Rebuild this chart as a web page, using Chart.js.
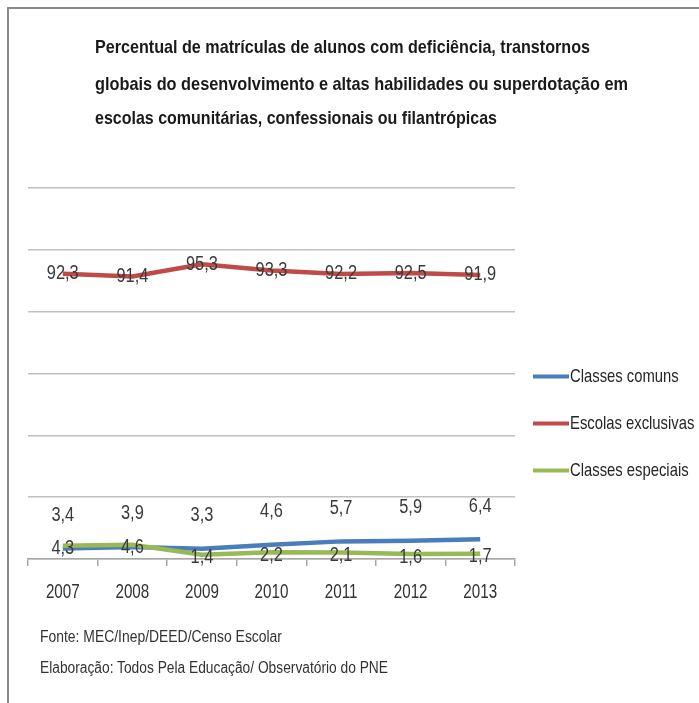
<!DOCTYPE html>
<html>
<head>
<meta charset="utf-8">
<script src="https://cdn.jsdelivr.net/npm/chart.js@4.4.1/dist/chart.umd.min.js"></script>
<style>
  html, body { margin: 0; padding: 0; background: #fff; }
  #page { position: relative; width: 699px; height: 703px; overflow: hidden; }
  #frame { position: absolute; left: 7px; top: 7px; right: -10px; bottom: -10px;
           border-left: 2px solid #8a8a8a; border-top: 2px solid #8a8a8a; }
  .txt { position: absolute; font-family: 'Liberation Sans', Arial, sans-serif; white-space: nowrap; transform-origin: 0 0; }
  .titulo { font-weight: bold; font-size: 19px; color: #1a1a1a; }
  .rodape { font-size: 16px; color: #333; }
  #chart { position: absolute; left: 0; top: 0; }
</style>
</head>
<body>
<div id="page">
  <div id="frame"></div>
  <canvas id="chart" width="699" height="703"></canvas>
  <div class="txt titulo" data-w="495" style="left:95px; top:36px">Percentual de matrículas de alunos com deficiência, transtornos</div>
  <div class="txt titulo" data-w="533" style="left:95px; top:73px">globais do desenvolvimento e altas habilidades ou superdotação em</div>
  <div class="txt titulo" data-w="402" style="left:95px; top:107px">escolas comunitárias, confessionais ou filantrópicas</div>
  <div class="txt rodape" data-w="242" style="left:40px; top:628px">Fonte: MEC/Inep/DEED/Censo Escolar</div>
  <div class="txt rodape" data-w="348" style="left:40px; top:659px">Elaboração: Todos Pela Educação/ Observatório do PNE</div>
</div>
<script>
// Anos e séries (%)
const anos = ['2007', '2008', '2009', '2010', '2011', '2012', '2013'];
const classesComuns = [3.4, 3.9, 3.3, 4.6, 5.7, 5.9, 6.4];
const escolasExclusivas = [92.3, 91.4, 95.3, 93.3, 92.2, 92.5, 91.9];
const classesEspeciais = [4.3, 4.6, 1.4, 2.2, 2.1, 1.6, 1.7];

const fonte = "'Liberation Sans', Arial, sans-serif";

// Textos HTML comprimidos para a largura desejada
document.querySelectorAll('.txt').forEach(el => {
  const w = el.getBoundingClientRect().width;
  el.style.transform = 'scaleX(' + (Number(el.dataset.w) / w) + ')';
});

// Escreve texto comprimido na horizontal (fonte estreita)
function texto(ctx, txt, x, y, align, aperto) {
  ctx.save();
  ctx.translate(x, y);
  ctx.scale(aperto, 1);
  ctx.textAlign = align;
  ctx.textBaseline = 'middle';
  ctx.fillText(txt, 0, 0);
  ctx.restore();
}

// Deslocamento vertical do rótulo de cada série
const deslocRotulo = [-33, 0, 3];

const desenhoTextos = {
  id: 'desenhoTextos',
  afterDatasetsDraw(chart) {
    const ctx = chart.ctx;
    const area = chart.chartArea;

    // rótulos de valor
    ctx.save();
    ctx.font = '20px ' + fonte;
    ctx.fillStyle = '#3a3a3a';
    chart.data.datasets.forEach((ds, i) => {
      chart.getDatasetMeta(i).data.forEach((pt, j) => {
        texto(ctx, String(ds.data[j]).replace('.', ','), pt.x, pt.y + deslocRotulo[i], 'center', 0.82);
      });
    });

    // anos no eixo x
    const sx = chart.scales.x;
    ctx.font = '20px ' + fonte;
    ctx.fillStyle = '#333';
    chart.data.labels.forEach((lab, i) => {
      texto(ctx, lab, sx.getPixelForTick(i), area.bottom + 33, 'center', 0.76);
    });

    // legenda
    const x0 = area.right + 18;
    const yMeio = (area.top + area.bottom) / 2 + 50;
    ctx.font = '19px ' + fonte;
    chart.data.datasets.forEach((ds, i) => {
      const y = yMeio + (i - 1) * 47;
      ctx.strokeStyle = ds.borderColor;
      ctx.lineWidth = 4;
      ctx.beginPath();
      ctx.moveTo(x0, y);
      ctx.lineTo(x0 + 36, y);
      ctx.stroke();
      ctx.fillStyle = '#262626';
      texto(ctx, ds.label, x0 + 37, y, 'left', 0.78);
    });
    ctx.restore();
  }
};

new Chart(document.getElementById('chart'), {
  type: 'line',
  data: {
    labels: anos,
    datasets: [
      { label: 'Classes comuns', data: classesComuns, borderColor: '#4a7ebb', order: 1 },
      { label: 'Escolas exclusivas', data: escolasExclusivas, borderColor: '#be4b48', order: 2 },
      { label: 'Classes especiais', data: classesEspeciais, borderColor: '#98b954', order: 0 }
    ]
  },
  options: {
    responsive: false,
    animation: false,
    layout: { padding: { left: 28, top: 188, right: 184, bottom: 137 } },
    elements: {
      line: { borderWidth: 4.5, tension: 0 },
      point: { radius: 0 }
    },
    scales: {
      x: {
        offset: true,
        grid: { offset: true, drawOnChartArea: false, tickLength: 7, color: '#a8a8a8', lineWidth: 1.5 },
        border: { color: '#a8a8a8', width: 1.5 },
        ticks: { display: false }
      },
      y: {
        min: 0, max: 120,
        ticks: { display: false, stepSize: 20 },
        grid: { color: '#c0c0c0', lineWidth: 1.5, drawTicks: false },
        border: { display: false }
      }
    },
    plugins: {
      legend: { display: false },
      tooltip: { enabled: false }
    }
  },
  plugins: [desenhoTextos]
});
</script>
</body>
</html>
